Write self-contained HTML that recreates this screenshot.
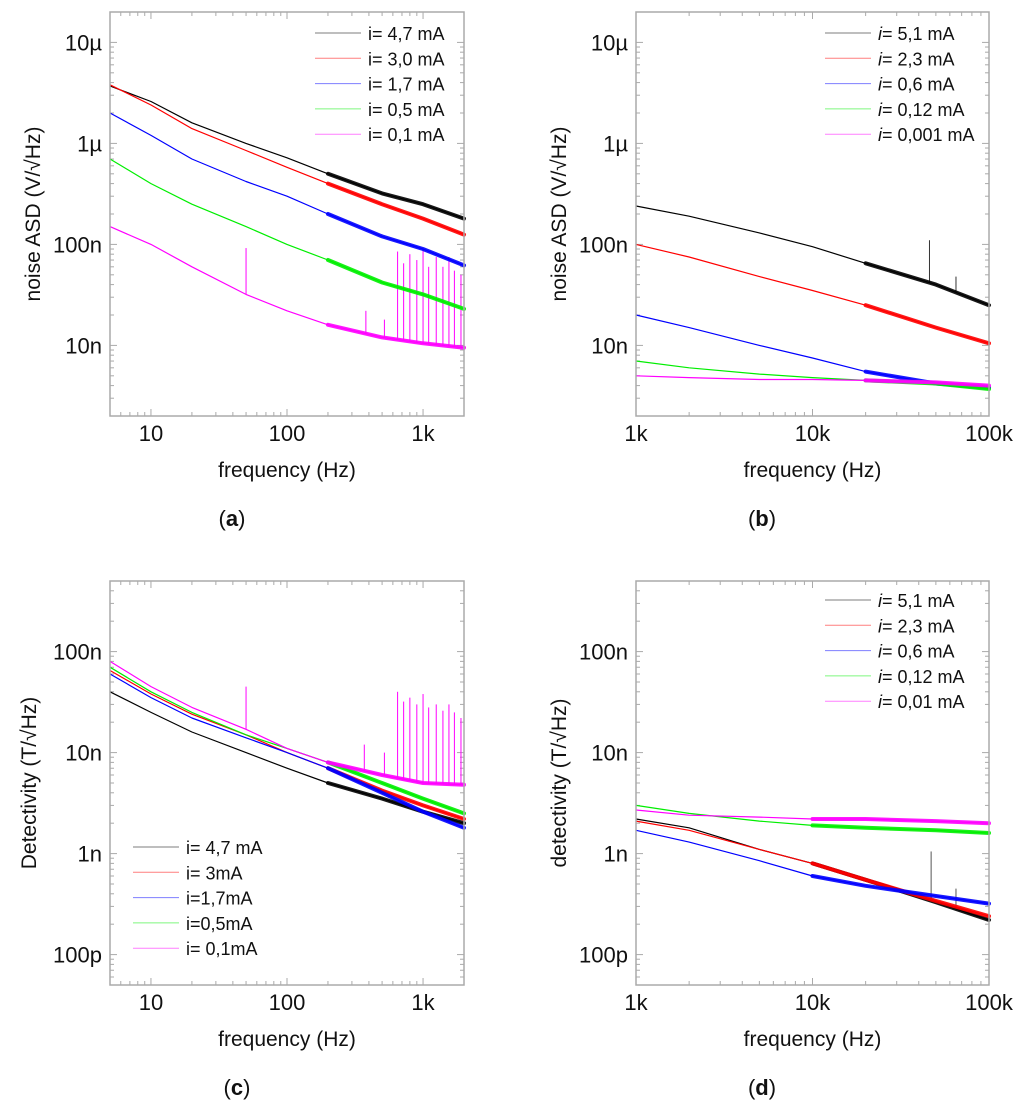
<!DOCTYPE html>
<html><head><meta charset="utf-8"><style>
body{margin:0;background:#fff;width:1024px;height:1101px;overflow:hidden}
svg text{font-family:"Liberation Sans",sans-serif;fill:#111}
</style></head><body>
<svg id="fig" width="1024" height="1101"></svg>
<script>
// ---- data ----
const freqA = [5,10,20,50,100,200,500,1000,2000];
const freqB = [1000,2000,5000,10000,20000,50000,100000];
const labelsA = ["i= 4,7 mA","i= 3,0 mA","i= 1,7 mA","i= 0,5 mA","i= 0,1 mA"];
const labelsB = ["5,1 mA","2,3 mA","0,6 mA","0,12 mA","0,001 mA"];
const labelsC = ["i= 4,7 mA","i= 3mA","i=1,7mA","i=0,5mA","i= 0,1mA"];
const labelsD = ["5,1 mA","2,3 mA","0,6 mA","0,12 mA","0,01 mA"];
const a_black = [3.7e-6,2.6e-6,1.6e-6,1.0e-6,7.2e-7,5.0e-7,3.2e-7,2.5e-7,1.8e-7];
const a_red = [3.8e-6,2.4e-6,1.4e-6,8.5e-7,5.8e-7,4.0e-7,2.5e-7,1.8e-7,1.25e-7];
const a_blue = [2.0e-6,1.2e-6,7.0e-7,4.2e-7,3.0e-7,2.0e-7,1.2e-7,9.0e-8,6.2e-8];
const a_green = [7.0e-7,4.0e-7,2.5e-7,1.5e-7,1.0e-7,7.0e-8,4.2e-8,3.2e-8,2.3e-8];
const a_mag = [1.5e-7,1.0e-7,6.0e-8,3.2e-8,2.2e-8,1.6e-8,1.2e-8,1.05e-8,9.5e-9];
const a_spikeF = [50,380,520,650,720,800,900,1000,1100,1250,1400,1550,1700,1900];
const a_spikeV = [9.2e-8,2.2e-8,1.8e-8,8.5e-8,6.5e-8,8.0e-8,7.0e-8,9.0e-8,6.0e-8,7.5e-8,6.0e-8,7.5e-8,5.5e-8,5.0e-8];
const b_black = [2.4e-7,1.9e-7,1.3e-7,9.5e-8,6.5e-8,4.0e-8,2.5e-8];
const b_red = [1.0e-7,7.5e-8,4.8e-8,3.5e-8,2.5e-8,1.5e-8,1.05e-8];
const b_blue = [2.0e-8,1.5e-8,1.0e-8,7.5e-9,5.5e-9,4.2e-9,3.8e-9];
const b_green = [7.0e-9,6.0e-9,5.2e-9,4.8e-9,4.5e-9,4.2e-9,3.7e-9];
const b_mag = [5.0e-9,4.8e-9,4.6e-9,4.6e-9,4.5e-9,4.3e-9,4.0e-9];
const b_spikeF = [46000,65000];
const b_spikeV = [1.1e-7,4.8e-8];
const c_black = [4.0e-8,2.5e-8,1.6e-8,1.0e-8,7.0e-9,5.0e-9,3.5e-9,2.6e-9,2.0e-9];
const c_red = [6.5e-8,3.8e-8,2.4e-8,1.5e-8,1.0e-8,7.0e-9,4.2e-9,3.0e-9,2.2e-9];
const c_blue = [6.0e-8,3.5e-8,2.2e-8,1.4e-8,1.0e-8,7.0e-9,4.0e-9,2.6e-9,1.8e-9];
const c_green = [7.0e-8,4.0e-8,2.5e-8,1.5e-8,1.1e-8,8.0e-9,5.0e-9,3.5e-9,2.5e-9];
const c_mag = [8.0e-8,4.5e-8,2.8e-8,1.7e-8,1.1e-8,8.0e-9,6.0e-9,5.0e-9,4.8e-9];
const c_spikeF = [50,370,520,650,720,800,900,1000,1100,1250,1400,1550,1700,1900];
const c_spikeV = [4.5e-8,1.2e-8,1.0e-8,4.0e-8,3.2e-8,3.5e-8,3.0e-8,3.8e-8,2.8e-8,3.0e-8,2.6e-8,3.0e-8,2.5e-8,2.2e-8];
const d_black = [2.2e-9,1.8e-9,1.1e-9,8.0e-10,5.5e-10,3.3e-10,2.2e-10];
const d_red = [2.1e-9,1.7e-9,1.1e-9,8.0e-10,5.5e-10,3.4e-10,2.4e-10];
const d_blue = [1.7e-9,1.3e-9,8.5e-10,6.0e-10,4.8e-10,3.8e-10,3.2e-10];
const d_green = [3.0e-9,2.5e-9,2.1e-9,1.9e-9,1.8e-9,1.7e-9,1.6e-9];
const d_mag = [2.7e-9,2.4e-9,2.3e-9,2.2e-9,2.2e-9,2.1e-9,2.0e-9];
const d_spikeF = [47000,65000];
const d_spikeV = [1.05e-9,4.5e-10];
const yTicksA = ["10n","100n","1µ","10µ"];
const yTicksC = ["100p","1n","10n","100n"];
const xTicksA = ["10","100","1k"];
const xTicksB = ["1k","10k","100k"];

const NS="http://www.w3.org/2000/svg";
const svg=document.getElementById('fig');
function el(tag,attrs,parent){const e=document.createElementNS(NS,tag);for(const k in attrs)e.setAttribute(k,attrs[k]);(parent||svg).appendChild(e);return e;}
const COLORS=["#000","#f00","#00f","#0e0","#f0f"];
function interp(freqs,vals,f){
  for(let i=0;i<freqs.length-1;i++){
    if(f>=freqs[i]&&f<=freqs[i+1]){
      const t=(Math.log10(f)-Math.log10(freqs[i]))/(Math.log10(freqs[i+1])-Math.log10(freqs[i]));
      return Math.pow(10,Math.log10(vals[i])+t*(Math.log10(vals[i+1])-Math.log10(vals[i])));
    }
  }
  return vals[vals.length-1];
}

function panel(o){
  const g=el('g',{});
  
  
  const {x0,x1,y0,y1,fmin,fmax,vmin,vmax}=o;
  const lx=v=>x0+(Math.log10(v)-Math.log10(fmin))/(Math.log10(fmax)-Math.log10(fmin))*(x1-x0);
  const ly=v=>y1-(Math.log10(v)-Math.log10(vmin))/(Math.log10(vmax)-Math.log10(vmin))*(y1-y0);
  const tg=el('g',{stroke:'#aaa','stroke-width':1},g);
  for(let d=Math.floor(Math.log10(fmin));d<=Math.ceil(Math.log10(fmax));d++)for(let m=1;m<10;m++){
    const f=m*Math.pow(10,d); if(f<fmin||f>fmax)continue; const x=lx(f); const L=m===1?7:4;
    el('line',{x1:x,y1:y1,x2:x,y2:y1-L},tg); el('line',{x1:x,y1:y0,x2:x,y2:y0+L},tg);}
  for(let d=Math.floor(Math.log10(vmin));d<=Math.ceil(Math.log10(vmax));d++)for(let m=1;m<10;m++){
    const v=m*Math.pow(10,d); if(v<vmin||v>vmax)continue; const y=ly(v); const L=m===1?7:4;
    el('line',{x1:x0,y1:y,x2:x0+L,y2:y},tg); el('line',{x1:x1,y1:y,x2:x1-L,y2:y},tg);}
  o.spikeF.forEach((f,j)=>{
    const base=interp(o.freqs,o.spikeBase,f);
    const sp=el('line',{x1:lx(f),x2:lx(f),y1:ly(base),y2:ly(o.spikeV[j]),stroke:o.spikeColor,'stroke-width':1},g);
    
    
  });
  o.series.forEach((s,i)=>{
    const pts=o.freqs.map((f,j)=>lx(f).toFixed(1)+','+ly(s[j]).toFixed(1)).join(' ');
    const p=el('polyline',{points:pts,fill:'none',stroke:COLORS[i],'stroke-width':1.2,'stroke-linejoin':'round'},g);
    
    
    const k=o.thickFrom; const bp=o.freqs.map((f,j)=>[f,s[j]]).filter(q=>q[0]>=k);
    const b=el('polyline',{points:bp.map(q=>lx(q[0]).toFixed(1)+','+ly(q[1]).toFixed(1)).join(' '),fill:'none',stroke:COLORS[i],'stroke-width':4,'stroke-linejoin':'round','stroke-linecap':'round',opacity:0.9},g);
    
    
  });
  el('rect',{x:x0,y:y0,width:x1-x0,height:y1-y0,fill:'none',stroke:'#aaa','stroke-width':1.5},g);
  o.yTicks.forEach((t,i)=>{const v=o.yTickVals[i];const tx=el('text',{x:x0-8,y:ly(v)+8,'text-anchor':'end','font-size':22},g);tx.textContent=t;
    });
  o.xTicks.forEach((t,i)=>{const tx=el('text',{x:lx(o.xTickVals[i]),y:y1+25,'text-anchor':'middle','font-size':22},g);tx.textContent=t;
    });
  const xl=el('text',{x:(x0+x1)/2,y:y1+61,'text-anchor':'middle','font-size':21},g);xl.textContent='frequency (Hz)';
  
  const yl=el('text',{transform:`translate(${o.ylx},${(y0+y1)/2}) rotate(-90)`,'text-anchor':'middle','font-size':21},g);yl.textContent=o.ylabel;
  
  const cap=el('text',{x:o.capx,y:y1+110,'text-anchor':'middle','font-size':22,'font-family':'Liberation Serif'},g);
  cap.innerHTML='(<tspan font-weight="bold">'+o.cap+'</tspan>)';
  
  o.labels.forEach((t,i)=>{const y=o.legY+i*25.3;
    const lg=el('g',{},g);
    
    
    el('line',{x1:o.legX,x2:o.legX+46,y1:y,y2:y,stroke:COLORS[i],'stroke-width':1,opacity:0.5},lg);
    const tx=el('text',{x:o.legX+53,y:y+7,'font-size':18},lg);
    if(o.italic){tx.innerHTML='<tspan font-style="italic">i</tspan>= '+t;}else tx.textContent=t;
  });
}
panel({name:'panel-a',x0:110,x1:464,y0:12,y1:416,fmin:5,fmax:2000,vmin:2e-9,vmax:2e-5,freqs:freqA,
  series:[a_black,a_red,a_blue,a_green,a_mag],thickFrom:200,spikeF:a_spikeF,spikeV:a_spikeV,spikeBase:a_mag,spikeColor:'#f0f',
  yTicks:yTicksA,yTickVals:[1e-8,1e-7,1e-6,1e-5],xTicks:xTicksA,xTickVals:[10,100,1000],
  ylabel:'noise ASD (V/√Hz)',ylx:40,cap:'a',capx:232,labels:labelsA,legX:315,legY:33,italic:false});
panel({name:'panel-b',x0:636,x1:989,y0:12,y1:416,fmin:1000,fmax:100000,vmin:2e-9,vmax:2e-5,freqs:freqB,
  series:[b_black,b_red,b_blue,b_green,b_mag],thickFrom:20000,spikeF:b_spikeF,spikeV:b_spikeV,spikeBase:b_black,spikeColor:'#333',
  yTicks:yTicksA,yTickVals:[1e-8,1e-7,1e-6,1e-5],xTicks:xTicksB,xTickVals:[1000,10000,100000],
  ylabel:'noise ASD (V/√Hz)',ylx:566,cap:'b',capx:762,labels:labelsB,legX:825,legY:33,italic:true});
panel({name:'panel-c',x0:110,x1:464,y0:581,y1:985,fmin:5,fmax:2000,vmin:5e-11,vmax:5e-7,freqs:freqA,
  series:[c_black,c_red,c_blue,c_green,c_mag],thickFrom:200,spikeF:c_spikeF,spikeV:c_spikeV,spikeBase:c_mag,spikeColor:'#f0f',
  yTicks:yTicksC,yTickVals:[1e-10,1e-9,1e-8,1e-7],xTicks:xTicksA,xTickVals:[10,100,1000],
  ylabel:'Detectivity (T/√Hz)',ylx:36,cap:'c',capx:237,labels:labelsC,legX:133,legY:847,italic:false});
panel({name:'panel-d',x0:636,x1:989,y0:581,y1:985,fmin:1000,fmax:100000,vmin:5e-11,vmax:5e-7,freqs:freqB,
  series:[d_black,d_red,d_blue,d_green,d_mag],thickFrom:10000,spikeF:d_spikeF,spikeV:d_spikeV,spikeBase:d_black,spikeColor:'#555',
  yTicks:yTicksC,yTickVals:[1e-10,1e-9,1e-8,1e-7],xTicks:xTicksB,xTickVals:[1000,10000,100000],
  ylabel:'detectivity (T/√Hz)',ylx:566,cap:'d',capx:762,labels:labelsD,legX:825,legY:600,italic:true});
</script>
</body></html>
